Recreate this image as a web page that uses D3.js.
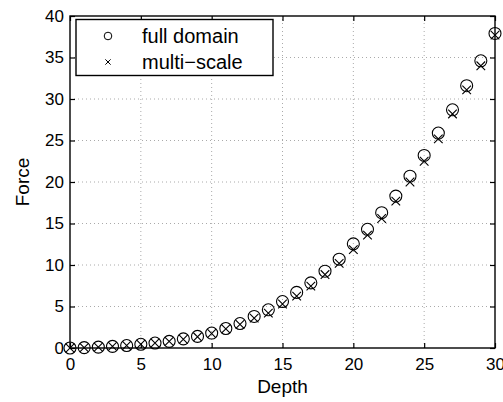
<!DOCTYPE html>
<html>
<head>
<meta charset="utf-8">
<script src="https://cdn.jsdelivr.net/npm/d3@7"></script>
<style>
  body { margin: 0; background: #fff; }
  svg { display: block; font-family: "Liberation Sans", Arial, sans-serif; }
</style>
</head>
<body>
<svg width="503" height="402"></svg>
<script>
// values
const depth = d3.range(0, 31);
const fullDomain = [0.0, 0.05, 0.1, 0.2, 0.3, 0.45, 0.6, 0.8, 1.1, 1.4, 1.8, 2.35, 2.95, 3.8, 4.6,
    5.6, 6.7, 7.85, 9.25, 10.7, 12.55, 14.3, 16.3, 18.3, 20.7, 23.2, 25.9, 28.7, 31.6, 34.6, 37.9];
const multiScale = [0.0, 0.05, 0.1, 0.2, 0.3, 0.45, 0.6, 0.8, 1.05, 1.35, 1.75, 2.3, 2.85, 3.6, 4.2,
    5.3, 6.25, 7.45, 8.85, 10.2, 11.85, 13.6, 15.6, 17.7, 20.0, 22.5, 25.2, 28.2, 31.1, 34.0, 37.7];
const xTicks = [0, 5, 10, 15, 20, 25, 30];
const yTicks = [0, 5, 10, 15, 20, 25, 30, 35, 40];
const seriesNames = ["full domain", "multi\u2212scale"];

const margin = {left: 70, right: 8, top: 16, bottom: 54};
const width = 503, height = 402;
const svg = d3.select("svg");

const x = d3.scaleLinear().domain([0, 30]).range([margin.left, width - margin.right]);
const y = d3.scaleLinear().domain([0, 40]).range([height - margin.bottom, margin.top]);

// dotted grid
const grid = svg.append("g")
    .attr("stroke", "#aaa")
    .attr("stroke-width", 1)
    .attr("stroke-dasharray", "1,3");
grid.selectAll(".gx").data(xTicks.slice(1, -1)).join("line")
    .attr("x1", d => x(d)).attr("x2", d => x(d))
    .attr("y1", y(0)).attr("y2", y(40));
grid.selectAll(".gy").data(yTicks.slice(1, -1)).join("line")
    .attr("y1", d => y(d)).attr("y2", d => y(d))
    .attr("x1", x(0)).attr("x2", x(30));

// axes, ticks inward, box on
const tickLen = 5;
svg.append("g")
    .attr("transform", `translate(0,${y(0)})`)
    .call(d3.axisBottom(x).tickValues(xTicks).tickSizeInner(-tickLen).tickSizeOuter(0).tickPadding(10))
    .call(g => g.select(".domain").remove());
svg.append("g")
    .attr("transform", `translate(0,${y(40)})`)
    .call(d3.axisTop(x).tickValues(xTicks).tickSizeInner(-tickLen).tickSizeOuter(0).tickFormat(""))
    .call(g => g.select(".domain").remove());
svg.append("g")
    .attr("transform", `translate(${x(0)},0)`)
    .call(d3.axisLeft(y).tickValues(yTicks).tickSizeInner(-tickLen).tickSizeOuter(0).tickPadding(6))
    .call(g => g.select(".domain").remove());
svg.append("g")
    .attr("transform", `translate(${x(30)},0)`)
    .call(d3.axisRight(y).tickValues(yTicks).tickSizeInner(-tickLen).tickSizeOuter(0).tickFormat(""))
    .call(g => g.select(".domain").remove());

svg.selectAll(".tick line").attr("stroke", "#000").attr("stroke-width", 1.2);
svg.selectAll(".tick text")
    .attr("font-size", 17)
    .attr("font-family", "Liberation Sans, Arial, sans-serif")
    .attr("fill", "#000");

svg.append("rect")
    .attr("x", x(0)).attr("y", y(40))
    .attr("width", x(30) - x(0)).attr("height", y(0) - y(40))
    .attr("fill", "none").attr("stroke", "#000").attr("stroke-width", 1.4);

// markers
const pts = depth.map((d, i) => ({d, full: fullDomain[i], multi: multiScale[i]}));

svg.append("g").selectAll("circle").data(pts).join("circle")
    .attr("cx", d => x(d.d)).attr("cy", d => y(d.full))
    .attr("r", 6)
    .attr("fill", "none").attr("stroke", "#000").attr("stroke-width", 1.1);

const cross = d3.symbol().type(d3.symbolX).size(50);
svg.append("g").selectAll("path").data(pts).join("path")
    .attr("d", cross)
    .attr("transform", d => `translate(${x(d.d)},${y(d.multi)})`)
    .attr("fill", "none").attr("stroke", "#000").attr("stroke-width", 1.1);

// axis labels
svg.append("text")
    .attr("x", (x(0) + x(30)) / 2).attr("y", 393)
    .attr("text-anchor", "middle").attr("font-size", 19)
    .text("Depth");
svg.append("text")
    .attr("transform", `translate(29,${(y(0) + y(40)) / 2}) rotate(-90)`)
    .attr("text-anchor", "middle").attr("font-size", 19)
    .text("Force");

// legend
const legend = svg.append("g");
legend.append("rect")
    .attr("x", 76).attr("y", 19.5).attr("width", 197).attr("height", 56)
    .attr("fill", "#fff").attr("stroke", "#000").attr("stroke-width", 1.4);
legend.append("circle")
    .attr("cx", 108).attr("cy", 36).attr("r", 3.8)
    .attr("fill", "none").attr("stroke", "#000").attr("stroke-width", 1);
legend.append("path")
    .attr("d", d3.symbol().type(d3.symbolX).size(20))
    .attr("transform", "translate(108,62)")
    .attr("fill", "none").attr("stroke", "#000").attr("stroke-width", 1);
legend.selectAll("text").data(seriesNames).join("text")
    .attr("x", 142).attr("y", (d, i) => 43 + i * 26)
    .attr("font-size", 20)
    .text(d => d);
</script>
</body>
</html>
